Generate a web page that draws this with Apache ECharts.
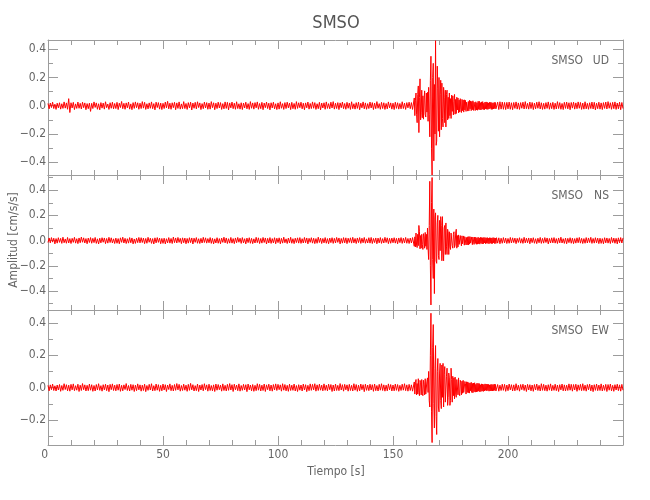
<!DOCTYPE html>
<html>
<head>
<meta charset="utf-8">
<script src="https://cdn.jsdelivr.net/npm/echarts@6.0.0/dist/echarts.min.js"></script>
<style>html,body{margin:0;padding:0;background:#fff}#chart{width:650px;height:500px}</style>
</head>
<body>
<div id="chart"></div>
<script>
// ---- data (cm/s/s). Each trace is stored in three segments with their own start time and sample step ----
const t0Antes = 0,     dtAntes = 0.5;    // 0 .. 158.5 s
const t0Evento = 159,  dtEvento = 0.25;  // 159 .. 194.75 s
const t0Despues = 195, dtDespues = 0.5;  // 195 .. 250 s

const udAntes = [
 .016,-.022,.019,-.013,.025,-.020,.011,-.026,.018,-.015,.021,-.024,.014,-.019,.027,-.017,.020,-.025,.050,-.048,
 .021,-.016,.024,-.027,.013,-.019,.026,-.018,.017,-.023,.025,-.014,.020,-.028,.015,-.021,.018,-.040,.017,-.020,
 .027,-.012,.020,-.025,.014,-.029,.022,-.017,.019,-.024,.028,-.014,.012,-.026,.021,-.018,.025,-.022,.016,-.020,
 .024,-.027,.018,-.013,.030,-.021,.017,-.025,.020,-.015,.026,-.024,.013,-.028,.022,-.019,.027,-.014,.021,-.025,
 .018,-.020,.029,-.017,.024,-.026,.014,-.022,.020,-.018,.027,-.021,.015,-.029,.025,-.013,.022,-.024,.019,-.027,
 .017,-.020,.026,-.015,.031,-.022,.018,-.025,.021,-.014,.024,-.028,.020,-.019,.027,-.024,.013,-.021,.029,-.020,
 .016,-.026,.022,-.015,.025,-.030,.019,-.018,.024,-.022,.028,-.013,.020,-.027,.015,-.021,.026,-.016,.022,-.025,
 .019,-.024,.029,-.014,.021,-.028,.018,-.020,.025,-.016,.022,-.026,.015,-.022,.027,-.019,.024,-.029,.020,-.015,
 .026,-.021,.018,-.025,.028,-.020,.014,-.024,.021,-.027,.019,-.016,.025,-.022,.015,-.026,.029,-.018,.020,-.024,
 .022,-.015,.027,-.025,.016,-.021,.024,-.028,.019,-.014,.026,-.020,.018,-.029,.021,-.016,.025,-.022,.014,-.027,
 .020,-.024,.028,-.018,.015,-.026,.022,-.020,.025,-.015,.019,-.027,.024,-.021,.016,-.025,.029,-.019,.021,-.014,
 .025,-.022,.018,-.028,.020,-.015,.026,-.024,.016,-.020,.027,-.018,.022,-.026,.014,-.021,.024,-.029,.019,-.016,
 .021,-.025,.027,-.019,.015,-.022,.025,-.016,.029,-.024,.018,-.020,.022,-.027,.020,-.014,.026,-.021,.016,-.025,
 .024,-.018,.019,-.026,.028,-.021,.014,-.024,.022,-.019,.025,-.028,.018,-.015,.027,-.022,.020,-.025,.015,-.020,
 .026,-.016,.022,-.027,.019,-.021,.029,-.018,.015,-.025,.024,-.020,.021,-.026,.016,-.022,.027,-.015,.020,-.024,
 .018,-.027,.025,-.019,.021,-.024,.016,-.022,.028,-.020,.019,-.026,.022,-.015,.025,-.021,.022,-.026
];
const udEvento = [
 -.030,.055,-.070,.040,.090,-.060,-.120,.080,
 .140,-.190,.060,.190,-.100,-.050,.110,-.085,
 .070,-.095,.040,.105,-.060,-.080,.090,-.045,
 .095,-.110,.130,-.060,-.220,.180,.350,-.300,
 -.490,.200,.300,-.390,.150,-.200,.460,-.280,
 -.250,.280,.120,-.180,.200,-.220,.080,.180,
 -.170,.160,-.090,-.150,.130,.060,-.120,.110,
 -.150,.080,.110,-.100,.060,-.090,.090,-.070,
 .050,-.090,.075,-.040,.070,-.065,.030,.080,
 -.060,.045,-.055,.060,-.030,.055,-.050,.040,
 -.045,.050,-.025,-.048,.045,-.035,.040,-.045,
 .042,-.030,.038,-.040,.025,.036,-.038,.030,
 -.036,.038,-.022,.034,-.035,.030,-.028,.035,
 -.033,.025,.032,-.034,.028,-.030,.020,-.032,
 .031,-.026,.032,-.028,.022,-.030,.027,-.024,
 .029,-.027,.018,-.028,.026,-.022,.027,-.025,
 .024,-.026,.020,-.023,.025,-.019,.024,-.026,
 .022,-.025,.019,-.023,.024,-.020,.023,-.022
];
const udDespues = [
 -.029,.025,-.027,.028,-.024,.026,-.025,.023,-.027,.024,
 -.022,.026,-.025,.021,-.028,.023,-.019,.027,-.024,.020,-.026,.022,-.018,.025,-.023,.029,-.021,.017,-.024,.026,
 -.020,.023,-.027,.019,-.022,.025,-.018,.028,-.023,.021,-.026,.017,-.024,.022,-.019,.027,-.025,.020,-.021,.024,
 -.026,.018,-.023,.029,-.020,.022,-.025,.016,-.027,.024,-.019,.026,-.022,.021,-.028,.023,-.017,.025,-.024,.020,
 -.021,.027,-.018,.023,-.026,.019,-.024,.028,-.022,.017,-.025,.021,-.020,.026,-.023,.024,-.029,.018,-.021,.025,
 -.024,.020,-.027,.022,-.019,.026,-.023,.029,-.018,.021,-.025,.024,-.021,.027,-.026,.019,-.022,.025,-.028,.023,
 -.020
];

const nsAntes = [
 -.015,.021,-.018,.024,-.012,.019,-.026,.016,-.020,.023,-.014,.018,-.022,.027,-.017,.013,-.021,.025,-.019,.016,
 -.023,.018,-.014,.026,-.020,.015,-.024,.021,-.017,.028,-.013,.022,-.019,.016,-.025,.020,-.015,.024,-.021,.018,
 -.016,.025,-.022,.014,-.027,.019,-.018,.023,-.013,.021,-.024,.017,-.020,.026,-.015,.022,-.019,.014,-.023,.020,
 -.021,.016,-.025,.022,-.014,.027,-.019,.018,-.023,.015,-.020,.024,-.017,.021,-.026,.013,-.022,.019,-.016,.025,
 -.018,.023,-.015,.020,-.024,.017,-.021,.026,-.013,.019,-.022,.016,-.027,.022,-.018,.024,-.014,.020,-.025,.017,
 -.022,.019,-.026,.015,-.018,.024,-.020,.017,-.023,.028,-.016,.021,-.019,.025,-.014,.018,-.024,.022,-.017,.020,
 -.025,.017,-.020,.023,-.016,.021,-.027,.019,-.014,.024,-.021,.015,-.023,.018,-.019,.026,-.015,.022,-.020,.016,
 -.017,.024,-.022,.018,-.026,.014,-.019,.023,-.021,.016,-.025,.020,-.014,.027,-.018,.021,-.023,.015,-.020,.025,
 -.020,.016,-.024,.021,-.017,.025,-.013,.019,-.022,.024,-.018,.015,-.026,.020,-.016,.023,-.021,.018,-.024,.014,
 -.019,.026,-.016,.022,-.023,.017,-.020,.025,-.015,.021,-.027,.018,-.019,.024,-.022,.016,-.018,.023,-.025,.019,
 -.016,.022,-.025,.018,-.020,.027,-.017,.014,-.023,.020,-.018,.026,-.021,.015,-.024,.019,-.016,.022,-.020,.024,
 -.022,.015,-.019,.025,-.017,.021,-.026,.018,-.014,.023,-.020,.019,-.024,.016,-.021,.027,-.015,.020,-.023,.017,
 -.018,.024,-.021,.016,-.025,.020,-.016,.023,-.022,.018,-.019,.025,-.014,.021,-.026,.017,-.020,.024,-.018,.022,
 -.024,.019,-.015,.022,-.020,.026,-.018,.017,-.023,.021,-.016,.024,-.022,.019,-.017,.025,-.021,.014,-.019,.023,
 -.020,.025,-.023,.017,-.016,.021,-.025,.020,-.018,.024,-.022,.016,-.019,.026,-.015,.022,-.024,.018,-.021,.020,
 -.017,.023,-.020,.018,-.025,.021,-.016,.024,-.022,.019,-.018,.025,-.021,.017,-.023,.020,-.019,.024
];
const nsEvento = [
 .022,-.045,.030,-.050,.060,-.035,-.055,.050,
 -.040,.120,.070,-.065,.040,-.060,.050,-.030,
 -.070,.055,.030,-.060,.065,-.045,.050,-.070,
 .100,-.060,-.150,.120,.470,-.200,-.510,.300,
 .500,-.150,-.300,.250,-.420,.180,.220,-.160,
 -.180,.140,.200,-.120,-.150,.160,-.080,.190,
 .120,-.160,.190,-.090,-.160,.100,.120,-.110,
 .140,-.050,-.110,.090,.060,-.110,.070,-.050,
 -.070,.060,.075,-.040,-.060,.050,.070,-.055,
 -.035,.060,.090,-.060,.040,-.050,.045,-.030,
 -.045,.040,.030,-.042,.038,-.025,-.040,.037,
 -.036,.030,.035,-.034,.025,-.033,.030,-.035,
 .032,-.028,.031,-.020,-.030,.029,-.032,.028,
 .025,-.030,.028,-.022,.027,-.029,.020,-.028,
 .027,-.025,.021,-.028,.026,-.020,.024,-.027,
 .023,-.026,.025,-.019,.024,-.025,.022,-.021,
 .024,-.022,.019,-.025,.023,-.020,.022,-.024,
 .021,-.023,.024,-.018,.022,-.024,.020,-.022
];
const nsDespues = [
 .023,-.020,.022,-.025,.019,-.021,.024,-.018,.020,-.023,
 .017,-.021,.025,-.019,.022,-.016,.020,-.024,.018,-.015,.023,-.020,.016,-.022,.026,-.018,.019,-.017,.021,-.025,
 .020,-.016,.023,-.021,.015,-.024,.019,-.017,.025,-.022,.018,-.020,.024,-.015,.021,-.026,.017,-.019,.022,-.018,
 .024,-.020,.016,-.023,.021,-.018,.027,-.019,.015,-.022,.020,-.025,.018,-.016,.023,-.021,.019,-.024,.016,-.020,
 .022,-.017,.025,-.020,.018,-.023,.016,-.021,.024,-.019,.021,-.015,.026,-.022,.017,-.020,.023,-.018,.020,-.024,
 .019,-.022,.016,-.025,.023,-.018,.021,-.020,.017,-.023,.025,-.016,.020,-.021,.018,-.026,.022,-.017,.024,-.019,
 .021
];

const ewAntes = [
 .014,-.020,.017,-.013,.022,-.018,.011,-.021,.016,-.015,.019,-.023,.013,-.017,.024,-.012,.018,-.020,.015,-.022,
 .020,-.014,.023,-.019,.012,-.016,.021,-.024,.015,-.018,.025,-.013,.017,-.021,.014,-.019,.022,-.016,.018,-.023,
 .013,-.021,.019,-.015,.024,-.017,.012,-.022,.018,-.014,.021,-.019,.016,-.025,.020,-.013,.023,-.018,.015,-.020,
 .019,-.016,.022,-.023,.014,-.020,.017,-.012,.025,-.018,.013,-.021,.020,-.016,.018,-.024,.015,-.019,.023,-.014,
 .017,-.022,.015,-.018,.021,-.025,.013,-.017,.020,-.015,.024,-.021,.012,-.019,.022,-.016,.018,-.023,.014,-.020,
 .022,-.015,.018,-.024,.016,-.012,.023,-.019,.014,-.021,.019,-.017,.025,-.014,.020,-.022,.013,-.018,.021,-.016,
 .015,-.023,.020,-.017,.026,-.014,.018,-.021,.012,-.019,.022,-.024,.016,-.015,.019,-.020,.024,-.013,.017,-.022,
 .021,-.018,.013,-.020,.017,-.024,.022,-.016,.019,-.013,.015,-.022,.023,-.018,.014,-.021,.020,-.017,.025,-.015,
 .018,-.024,.021,-.014,.016,-.019,.023,-.022,.013,-.017,.020,-.015,.018,-.025,.022,-.014,.016,-.020,.019,-.023,
 .014,-.019,.024,-.016,.020,-.021,.015,-.018,.022,-.024,.017,-.013,.021,-.020,.016,-.022,.019,-.015,.023,-.018,
 .020,-.013,.017,-.022,.024,-.016,.019,-.020,.014,-.023,.021,-.018,.015,-.017,.022,-.021,.013,-.024,.018,-.016,
 .016,-.021,.022,-.015,.018,-.025,.014,-.019,.023,-.017,.020,-.014,.024,-.022,.017,-.018,.021,-.016,.015,-.020,
 .023,-.017,.015,-.020,.021,-.013,.019,-.024,.016,-.021,.022,-.018,.014,-.019,.025,-.015,.018,-.022,.020,-.014,
 .017,-.022,.020,-.018,.014,-.021,.024,-.016,.019,-.023,.015,-.020,.022,-.013,.018,-.025,.021,-.017,.016,-.019,
 .021,-.015,.018,-.023,.022,-.019,.013,-.021,.020,-.016,.024,-.018,.017,-.022,.015,-.020,.023,-.014,.019,-.021,
 .016,-.020,.022,-.017,.019,-.023,.014,-.018,.021,-.016,.024,-.019,.017,-.022,.020,-.018,.017,-.022
];
const ewEvento = [
 -.022,.035,-.040,.030,.050,-.045,.025,-.040,
 .055,-.030,-.050,.045,.030,-.045,.050,-.035,
 -.050,.045,.020,-.045,.055,-.040,-.050,.040,
 .060,-.030,.100,-.080,-.120,.200,.460,-.150,
 -.340,.250,.390,-.100,-.250,.120,.260,-.180,
 -.290,.100,.180,-.120,-.150,.090,.150,-.080,
 -.130,.140,-.060,.150,-.120,.080,.130,-.090,
 -.100,.070,.120,-.110,-.060,.090,.060,-.110,
 -.080,.120,.050,-.090,.070,-.050,.060,-.070,
 .065,-.040,-.060,.050,.055,-.045,.060,-.035,
 -.050,.045,.030,-.045,.040,-.035,.045,-.030,
 -.040,.038,.025,-.040,.036,-.030,.035,-.032,
 .030,-.034,.028,-.020,.033,-.030,.026,-.032,
 .028,-.025,.030,-.028,.020,-.027,.027,-.024,
 .026,-.022,.025,-.026,.018,-.024,.023,-.021,
 .022,-.024,.019,-.021,.023,-.017,.022,-.020,
 .021,-.018,.020,-.022,.017,-.021,.019,-.020,
 .020,-.021,.018,-.019,.022,-.017,.020,-.021
];
const ewDespues = [
 -.016,.019,-.022,.015,-.018,.021,-.017,.020,-.023,.016,
 -.019,.022,-.014,.018,-.021,.017,-.020,.024,-.016,.015,-.022,.019,-.013,.021,-.018,.016,-.024,.020,-.015,.018,
 -.020,.016,-.023,.019,-.015,.022,-.018,.014,-.021,.024,-.017,.020,-.019,.015,-.022,.018,-.016,.023,-.020,.014,
 -.017,.021,-.019,.016,-.024,.018,-.014,.022,-.020,.017,-.021,.015,-.018,.023,-.016,.020,-.022,.019,-.015,.021,
 -.023,.017,-.016,.020,-.019,.024,-.018,.015,-.022,.019,-.014,.021,-.020,.016,-.025,.018,-.017,.022,-.019,.016,
 -.018,.023,-.021,.015,-.017,.020,-.024,.019,-.016,.022,-.020,.014,-.023,.018,-.015,.021,-.019,.017,-.022,.020,
 -.016
];

const estacion = 'SMSO';
const componentes = ['UD', 'NS', 'EW'];
const yMin = [-0.49, -0.55, -0.355];
const yMax = [0.465, 0.52, 0.48];
const yMarcasMayores = [
  [-0.4, -0.2, 0, 0.2, 0.4],
  [-0.4, -0.2, 0, 0.2, 0.4],
  [-0.2, 0, 0.2, 0.4]
];
const yMarcasMenores = [
  [-0.4, -0.3, -0.2, -0.1, 0, 0.1, 0.2, 0.3, 0.4],
  [-0.5, -0.4, -0.3, -0.2, -0.1, 0, 0.1, 0.2, 0.3, 0.4, 0.5],
  [-0.3, -0.2, -0.1, 0, 0.1, 0.2, 0.3, 0.4]
];
const xMin = 0, xMax = 250, xPaso = 50;
const tituloX = 'Tiempo [s]';
const tituloY = 'Amplitud [cm/s/s]';

// ---- build series data from the segments ----
function segmento(valores, t0, paso) { return valores.map((v, i) => [t0 + i * paso, v]); }
function traza(antes, evento, despues) {
  return segmento(antes, t0Antes, dtAntes)
    .concat(segmento(evento, t0Evento, dtEvento))
    .concat(segmento(despues, t0Despues, dtDespues));
}
const trazas = [
  traza(udAntes, udEvento, udDespues),
  traza(nsAntes, nsEvento, nsDespues),
  traza(ewAntes, ewEvento, ewDespues)
];

// ---- layout / style ----
const panelTop = [40, 175, 310];
const panelHeight = 135;
const gridLeft = 48, gridWidth = 575;
const axisColor = '#9c9c9c';
const textColor = '#666';
const fam = '"DejaVu Sans Condensed", "DejaVu Sans", sans-serif';

const grids = [], xAxes = [], yAxes = [], series = [], graphics = [];
const fmtY = v => v.toFixed(1).replace('-', '\u2212');

for (let p = 0; p < 3; p++) {
  grids.push({ left: gridLeft, width: gridWidth, top: panelTop[p], height: panelHeight });
  ['bottom', 'top'].forEach(pos => {
    xAxes.push({
      type: 'value', gridIndex: p, position: pos, min: xMin, max: xMax, interval: xPaso,
      axisLine: { show: true, onZero: false, lineStyle: { color: axisColor, width: 1 } },
      axisTick: { show: true, inside: true, length: 9, lineStyle: { color: axisColor } },
      minorTick: { show: true, splitNumber: 5, length: 5, lineStyle: { color: axisColor } },
      splitLine: { show: false }, minorSplitLine: { show: false },
      axisLabel: { show: pos === 'bottom' && p === 2, showMaxLabel: false, alignMinLabel: 'right',
                   color: textColor, fontFamily: fam, fontSize: 12, margin: 4 }
    });
  });
  ['left', 'right'].forEach(pos => {
    yAxes.push({
      type: 'value', gridIndex: p, position: pos, min: yMin[p], max: yMax[p],
      axisLine: { show: true, onZero: false, lineStyle: { color: axisColor, width: 1 } },
      axisTick: { show: true, inside: true, length: 10, customValues: yMarcasMayores[p], lineStyle: { color: axisColor } },
      axisLabel: { show: pos === 'left', customValues: yMarcasMayores[p], formatter: fmtY,
                   color: textColor, fontFamily: fam, fontSize: 12, margin: 2 },
      splitLine: { show: false }
    });
    yAxes.push({
      type: 'value', gridIndex: p, position: pos, min: yMin[p], max: yMax[p],
      axisLine: { show: false, onZero: false },
      axisTick: { show: true, inside: true, length: 5, customValues: yMarcasMenores[p], lineStyle: { color: axisColor } },
      axisLabel: { show: false },
      splitLine: { show: false }
    });
  });
  series.push({
    type: 'line', name: componentes[p], xAxisIndex: 2 * p, yAxisIndex: 4 * p,
    data: trazas[p],
    showSymbol: false, symbol: 'none',
    lineStyle: { color: '#ff0000', width: 1 }, itemStyle: { color: '#ff0000' },
    silent: true
  });
  const yLab = panelTop[p] + 21;
  graphics.push({ type: 'text', x: 583, y: yLab,
    style: { text: estacion, font: '12px ' + fam, fill: textColor, align: 'right', verticalAlign: 'middle',
             textAlign: 'right', textVerticalAlign: 'middle' } });
  graphics.push({ type: 'text', x: 609, y: yLab,
    style: { text: componentes[p], font: '12px ' + fam, fill: textColor, align: 'right', verticalAlign: 'middle',
             textAlign: 'right', textVerticalAlign: 'middle' } });
}

graphics.push({ type: 'text', x: 336, y: 23,
  style: { text: estacion, font: '18px ' + fam, fill: '#555', align: 'center', verticalAlign: 'middle',
           textAlign: 'center', textVerticalAlign: 'middle' } });
graphics.push({ type: 'text', x: 336, y: 472,
  style: { text: tituloX, font: '12px ' + fam, fill: textColor, align: 'center', verticalAlign: 'middle',
           textAlign: 'center', textVerticalAlign: 'middle' } });
graphics.push({ type: 'text', x: 14, y: 240, rotation: Math.PI / 2,
  style: { text: tituloY, font: '12px ' + fam, fill: textColor, align: 'center', verticalAlign: 'middle',
           textAlign: 'center', textVerticalAlign: 'middle' } });

const chart = echarts.init(document.getElementById('chart'), null, { renderer: 'canvas' });
chart.setOption({
  animation: false,
  backgroundColor: '#ffffff',
  grid: grids,
  xAxis: xAxes,
  yAxis: yAxes,
  series: series,
  graphic: graphics
});
</script>
</body>
</html>
